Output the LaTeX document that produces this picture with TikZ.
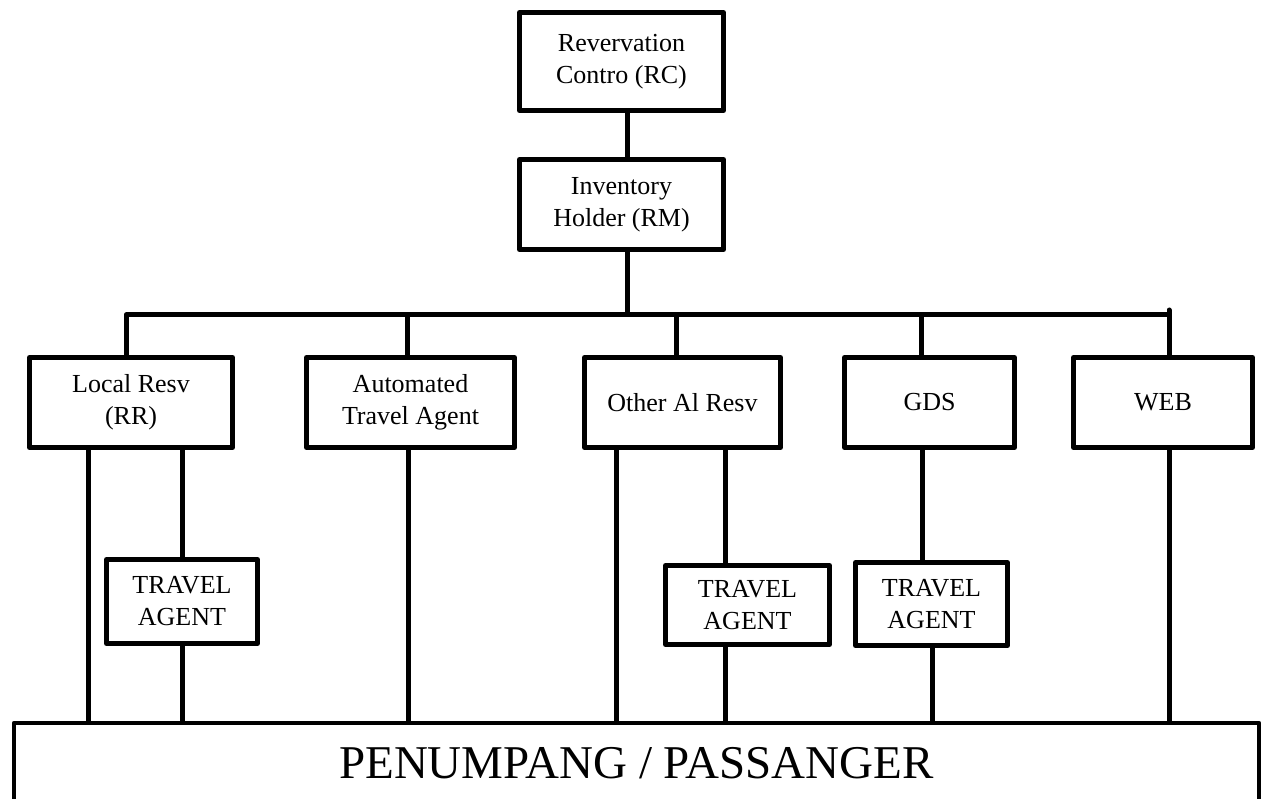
\documentclass[tikz,border=0pt]{standalone}
\usepackage{fontspec}
\setmainfont{Liberation Serif}
\begin{document}
\begin{tikzpicture}[x=1pt,y=-1pt,
  line width=5pt, line join=round,
  box/.style={draw, line width=5pt, rectangle, inner sep=0pt, align=center,
    font=\fontsize{26}{32}\selectfont},
  conn/.style={line width=5pt}]
\useasboundingbox (0,0) rectangle (1263,799);
% nodes
\node[box, minimum width=204pt, minimum height=98pt] (RC) at (621.5,61.5) {Revervation\\Contro (RC)};
\node[box, minimum width=204pt, minimum height=90pt] (IH) at (621.5,204.5) {Inventory\\Holder (RM)};
\node[box, minimum width=203pt, minimum height=90pt] (LR) at (131,402.5) {Local Resv\\(RR)};
\node[box, minimum width=208pt, minimum height=90pt] (AT) at (410.5,402.5) {Automated\\Travel Agent};
\node[box, minimum width=196pt, minimum height=90pt] (OA) at (682.5,402.5) {Other Al Resv};
\node[box, minimum width=170pt, minimum height=90pt] (GDS) at (929.5,402.5) {GDS};
\node[box, minimum width=179pt, minimum height=90pt] (WEB) at (1163,402.5) {WEB};
\node[box, minimum width=151pt, minimum height=84pt] (TA1) at (182,601.5) {TRAVEL\\AGENT};
\node[box, minimum width=164pt, minimum height=79pt] (TA2) at (747.5,605) {TRAVEL\\AGENT};
\node[box, minimum width=152pt, minimum height=83pt] (TA3) at (931.5,604) {TRAVEL\\AGENT};
\node[draw, line width=4.5pt, rectangle, inner sep=0pt, minimum width=1245pt, minimum height=80pt,
  text height=31pt, text depth=0pt, font=\fontsize{47}{56}\selectfont] (PS) at (636.5,763) {PENUMPANG / PASSANGER};
\coordinate (bus) at (0,315);
% top connectors
\draw[conn] ([xshift=5.5pt]RC.south) -- ([xshift=5.5pt]IH.north);
\draw[conn] ([xshift=5.5pt]IH.south) -- ([xshift=5.5pt]IH.south |- bus);
\draw[conn] ([xshift=-5pt]LR.north) |- ([xshift=6pt]WEB.north |- bus) -- ++(0,-5) -- ([xshift=6pt]WEB.north);
\draw[conn] ([xshift=-3.5pt]AT.north) -- ([xshift=-3.5pt]AT.north |- bus);
\draw[conn] ([xshift=-6.5pt]OA.north) -- ([xshift=-6.5pt]OA.north |- bus);
\draw[conn] ([xshift=-8.5pt]GDS.north) -- ([xshift=-8.5pt]GDS.north |- bus);
% lower connectors
\draw[conn] ([xshift=-43pt]LR.south) -- ([xshift=-43pt]LR.south |- PS.north);
\draw[conn] (LR.south -| TA1.north) -- (TA1.north);
\draw[conn] (TA1.south) -- (TA1.south |- PS.north);
\draw[conn] ([xshift=-2.5pt]AT.south) -- ([xshift=-2.5pt]AT.south |- PS.north);
\draw[conn] ([xshift=-66.5pt]OA.south) -- ([xshift=-66.5pt]OA.south |- PS.north);
\draw[conn] ([xshift=-22.5pt]TA2.north |- OA.south) -- ([xshift=-22.5pt]TA2.north);
\draw[conn] ([xshift=-22.5pt]TA2.south) -- ([xshift=-22.5pt]TA2.south |- PS.north);
\draw[conn] ([xshift=-7.5pt]GDS.south) -- ([xshift=-9.5pt]TA3.north);
\draw[conn] ([xshift=0.5pt]TA3.south) -- ([xshift=0.5pt]TA3.south |- PS.north);
\draw[conn] ([xshift=6pt]WEB.south) -- ([xshift=6pt]WEB.south |- PS.north);
\end{tikzpicture}
\end{document}
